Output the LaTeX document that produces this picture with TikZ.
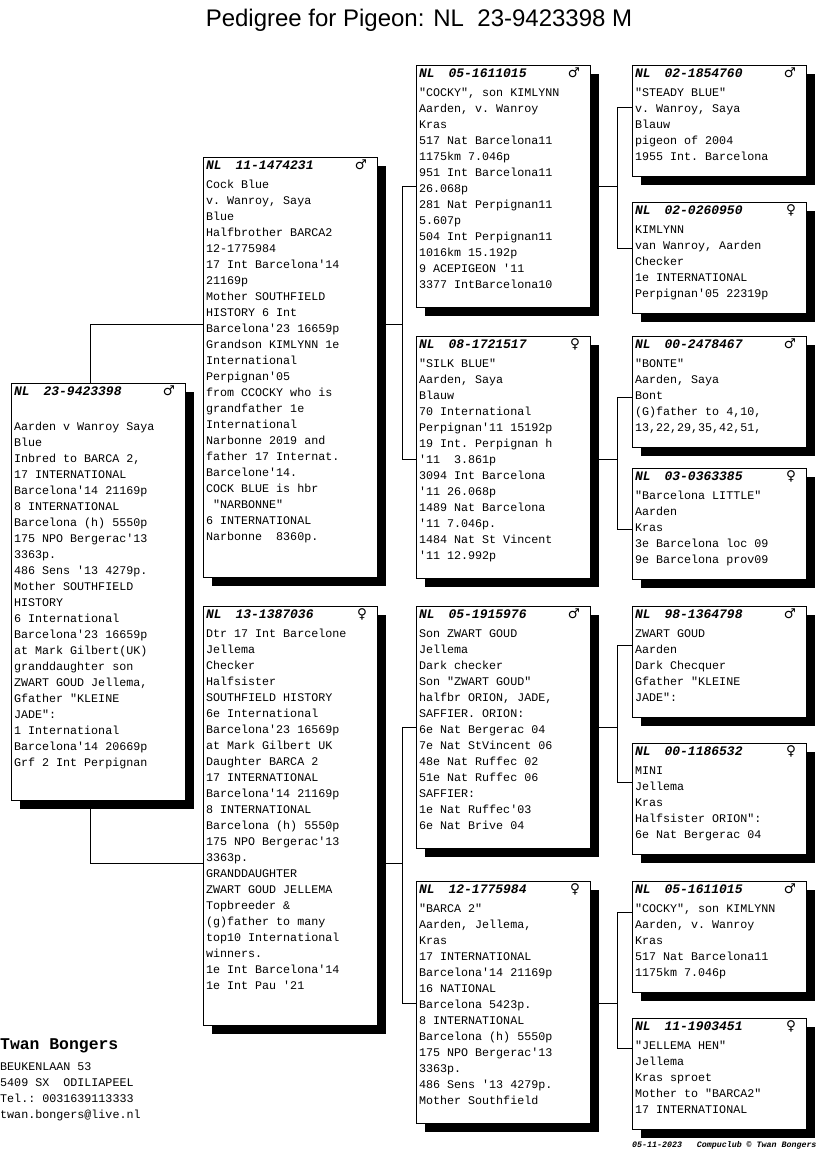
\documentclass[tikz,border=0pt]{standalone}
\usepackage{fontspec}
\setmonofont{Liberation Mono}
\newfontfamily\titlefont{Liberation Sans}
\newfontfamily\sexfont{DejaVu Sans}
\usetikzlibrary{backgrounds}
\usetikzlibrary{shadows}

\newcommand{\pigeon}[4]{\parbox[t][#1][t]{169pt}{\ttfamily\fontsize{11.7}{16}\selectfont
  \rule{0pt}{9.5pt}{\fontsize{13}{16}\selectfont\bfseries\itshape NL\hspace{14pt}#2}\hfill
  {\sexfont\bfseries\fontsize{13.5}{16}\selectfont #3}\hspace*{8pt}\par
  \vspace{3pt}#4}}

\begin{document}
\begin{tikzpicture}[x=1pt,y=-1pt]
          \useasboundingbox (0,0) rectangle (816,1172);

          \node (title) [anchor=base] at (419,27) {\titlefont\fontsize{24}{28}\selectfont Pedigree for Pigeon: NL\ \ 23-9423398 M};

          \begin{scope}[every node/.style={draw,fill=white,anchor=north west,inner xsep=2.5pt,inner ysep=2pt,line width=1pt,
              drop shadow={shadow xshift=8pt,shadow yshift=-8pt,opacity=1,fill=black}}]
            \node (p) at (11,383) {\pigeon{413pt}{23-9423398}{♂}{\mbox{}\\Aarden v Wanroy Saya\\Blue\\Inbred to BARCA 2,\\17 INTERNATIONAL\\Barcelona'14 21169p\\8 INTERNATIONAL\\Barcelona (h) 5550p\\175 NPO Bergerac'13\\3363p.\\486 Sens '13 4279p.\\Mother SOUTHFIELD\\HISTORY\\6 International\\Barcelona'23 16659p\\at Mark Gilbert(UK)\\granddaughter son\\ZWART GOUD Jellema,\\Gfather "KLEINE\\JADE":\\1 International\\Barcelona'14 20669p\\Grf 2 Int Perpignan}};

            \node (s) at (203,157) {\pigeon{416pt}{11-1474231}{♂}{Cock Blue\\v. Wanroy, Saya\\Blue\\Halfbrother BARCA2\\12-1775984\\17 Int Barcelona'14\\21169p\\Mother SOUTHFIELD\\HISTORY 6 Int\\Barcelona'23 16659p\\Grandson KIMLYNN 1e\\International\\Perpignan'05\\from CCOCKY who is\\grandfather 1e\\International\\Narbonne 2019 and\\father 17 Internat.\\Barcelone'14.\\COCK BLUE is hbr\\\mbox{\ }"NARBONNE"\\6 INTERNATIONAL\\Narbonne\ \ 8360p.}};
            \node (d) at (203,606) {\pigeon{415pt}{13-1387036}{♀}{Dtr 17 Int Barcelone\\Jellema\\Checker\\Halfsister\\SOUTHFIELD HISTORY\\6e International\\Barcelona'23 16569p\\at Mark Gilbert UK\\Daughter BARCA 2\\17 INTERNATIONAL\\Barcelona'14 21169p\\8 INTERNATIONAL\\Barcelona (h) 5550p\\175 NPO Bergerac'13\\3363p.\\GRANDDAUGHTER\\ZWART GOUD JELLEMA\\Topbreeder \&\\(g)father to many\\top10 International\\winners.\\1e Int Barcelona'14\\1e Int Pau '21}};

            \node (ss) at (416,65) {\pigeon{238pt}{05-1611015}{♂}{"COCKY", son KIMLYNN\\Aarden, v. Wanroy\\Kras\\517 Nat Barcelona11\\1175km 7.046p\\951 Int Barcelona11\\26.068p\\281 Nat Perpignan11\\5.607p\\504 Int Perpignan11\\1016km 15.192p\\9 ACEPIGEON '11\\3377 IntBarcelona10}};
            \node (sd) at (416,336) {\pigeon{238pt}{08-1721517}{♀}{"SILK BLUE"\\Aarden, Saya\\Blauw\\70 International\\Perpignan'11 15192p\\19 Int. Perpignan h\\'11\ \ 3.861p\\3094 Int Barcelona\\'11 26.068p\\1489 Nat Barcelona\\'11 7.046p.\\1484 Nat St Vincent\\'11 12.992p}};
            \node (ds) at (416,606) {\pigeon{238pt}{05-1915976}{♂}{Son ZWART GOUD\\Jellema\\Dark checker\\Son "ZWART GOUD"\\halfbr ORION, JADE,\\SAFFIER. ORION:\\6e Nat Bergerac 04\\7e Nat StVincent 06\\48e Nat Ruffec 02\\51e Nat Ruffec 06\\SAFFIER:\\1e Nat Ruffec'03\\6e Nat Brive 04}};
            \node (dd) at (416,881) {\pigeon{238pt}{12-1775984}{♀}{"BARCA 2"\\Aarden, Jellema,\\Kras\\17 INTERNATIONAL\\Barcelona'14 21169p\\16 NATIONAL\\Barcelona 5423p.\\8 INTERNATIONAL\\Barcelona (h) 5550p\\175 NPO Bergerac'13\\3363p.\\486 Sens '13 4279p.\\Mother Southfield}};

            \node (sss) at (632,65) {\pigeon{107pt}{02-1854760}{♂}{"STEADY BLUE"\\v. Wanroy, Saya\\Blauw\\pigeon of 2004\\1955 Int. Barcelona}};
            \node (ssd) at (632,202) {\pigeon{107pt}{02-0260950}{♀}{KIMLYNN\\van Wanroy, Aarden\\Checker\\1e INTERNATIONAL\\Perpignan'05 22319p}};
            \node (sds) at (632,336) {\pigeon{107pt}{00-2478467}{♂}{"BONTE"\\Aarden, Saya\\Bont\\(G)father to 4,10,\\13,22,29,35,42,51,}};
            \node (sdd) at (632,468) {\pigeon{107pt}{03-0363385}{♀}{"Barcelona LITTLE"\\Aarden\\Kras\\3e Barcelona loc 09\\9e Barcelona prov09}};
            \node (dss) at (632,606) {\pigeon{107pt}{98-1364798}{♂}{ZWART GOUD\\Aarden\\Dark Checquer\\Gfather "KLEINE\\JADE":}};
            \node (dsd) at (632,743) {\pigeon{107pt}{00-1186532}{♀}{MINI\\Jellema\\Kras\\Halfsister ORION":\\6e Nat Bergerac 04}};
            \node (dds) at (632,881) {\pigeon{107pt}{05-1611015}{♂}{"COCKY", son KIMLYNN\\Aarden, v. Wanroy\\Kras\\517 Nat Barcelona11\\1175km 7.046p}};
            \node (ddd) at (632,1018) {\pigeon{107pt}{11-1903451}{♀}{"JELLEMA HEN"\\Jellema\\Kras sproet\\Mother to "BARCA2"\\17 INTERNATIONAL}};
          \end{scope}

          \node (owner) [anchor=base west,inner sep=0pt,font=\ttfamily\bfseries\fontsize{16.4}{20}\selectfont] at (0,1049) {Twan Bongers};
          \node (address) [anchor=north west,inner sep=0pt,align=left,font=\ttfamily\fontsize{11.7}{16.3}\selectfont] at (0,1062) {BEUKENLAAN 53\\5409 SX\ \ ODILIAPEEL\\Tel.: 0031639113333\\twan.bongers@live.nl};
          \node (stamp) [anchor=base west,inner sep=0pt,font=\ttfamily\bfseries\itshape\fontsize{8.3}{10}\selectfont] at (632,1147) {05-11-2023\ \ \ Compuclub © Twan Bongers};

          \begin{scope}[on background layer,line width=0.8pt]
            \fill [white] (0,0) rectangle (816,1172);
            \draw ([xshift=79pt]p.north west) |- ([yshift=-167pt]s.north west);
            \draw ([xshift=79pt]p.south west) |- ([yshift=-257pt]d.north west);

            \draw ([yshift=-167pt]s.north east) -- ++(24,0) coordinate (s-fork) |- ([yshift=-121pt]ss.north west);
            \draw (s-fork) |- ([yshift=-123pt]sd.north west);
            \draw ([yshift=-257pt]d.north east) -- ++(24,0) coordinate (d-fork) |- ([yshift=-121pt]ds.north west);
            \draw (d-fork) |- ([yshift=-122pt]dd.north west);

            \draw ([yshift=-121pt]ss.north east) -- ++(26,0) coordinate (ss-fork) |- ([yshift=-42pt]sss.north west);
            \draw (ss-fork) |- ([yshift=-46pt]ssd.north west);
            \draw ([yshift=-123pt]sd.north east) -- ++(26,0) coordinate (sd-fork) |- ([yshift=-61pt]sds.north west);
            \draw (sd-fork) |- ([yshift=-61pt]sdd.north west);
            \draw ([yshift=-121pt]ds.north east) -- ++(26,0) coordinate (ds-fork) |- ([yshift=-39pt]dss.north west);
            \draw (ds-fork) |- ([yshift=-39pt]dsd.north west);
            \draw ([yshift=-122pt]dd.north east) -- ++(26,0) coordinate (dd-fork) |- ([yshift=-31pt]dds.north west);
            \draw (dd-fork) |- ([yshift=-30pt]ddd.north west);
          \end{scope}
\end{tikzpicture}
\end{document}
